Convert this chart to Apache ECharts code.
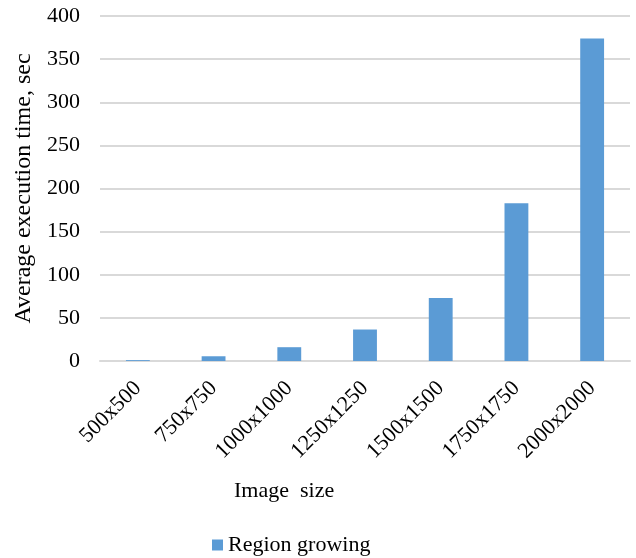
<!DOCTYPE html>
<html>
<head>
<meta charset="utf-8">
<script src="https://cdn.jsdelivr.net/npm/echarts@6/dist/echarts.min.js"></script>
<style>
  html, body { margin: 0; padding: 0; background: #fff; }
  #chart { width: 636px; height: 558px; }
</style>
</head>
<body>
<div id="chart"></div>
<script>
  // data
  var categories = ['500x500', '750x750', '1000x1000', '1250x1250', '1500x1500', '1750x1750', '2000x2000'];
  var regionGrowing = [1, 5.5, 16, 36.5, 73, 183, 374];
  var seriesName = 'Region growing';

  var font = '"Liberation Serif", "Times New Roman", serif';
  var chart = echarts.init(document.getElementById('chart'));
  var options = {
    animation: false,
    textStyle: { fontFamily: font },
    grid: {
      left: 100,
      right: 6,
      top: 16,
      bottom: 197
    },
    legend: {
      data: [seriesName],
      left: 212,
      top: 534,
      itemWidth: 11,
      itemHeight: 11,
      icon: 'rect',
      textStyle: { fontFamily: font, fontSize: 22, color: '#000' },
      padding: 0
    },
    title: {
      text: 'Image  size',
      left: 234,
      top: 480,
      padding: 0,
      textStyle: { fontFamily: font, fontSize: 22, fontWeight: 'normal', color: '#000' }
    },
    xAxis: {
      type: 'category',
      data: categories,
      axisLine: { lineStyle: { color: '#d9d9d9', width: 2 } },
      axisTick: { show: false },
      axisLabel: {
        rotate: 45,
        margin: 24,
        interval: 0,
        fontFamily: font,
        fontSize: 22,
        color: '#000'
      }
    },
    yAxis: {
      type: 'value',
      min: 0,
      max: 400,
      interval: 50,
      name: 'Average execution time, sec',
      nameLocation: 'middle',
      nameGap: 64,
      nameTextStyle: { fontFamily: font, fontSize: 24, color: '#000' },
      axisLine: { show: false },
      axisTick: { show: false },
      axisLabel: { margin: 20, fontFamily: font, fontSize: 22, color: '#000' },
      splitLine: { lineStyle: { color: '#d9d9d9', width: 2 } }
    },
    series: [{
      name: seriesName,
      type: 'bar',
      data: regionGrowing,
      barWidth: '31.5%',
      itemStyle: { color: '#5b9bd5' }
    }]
  };
  chart.setOption(options);
</script>
</body>
</html>
